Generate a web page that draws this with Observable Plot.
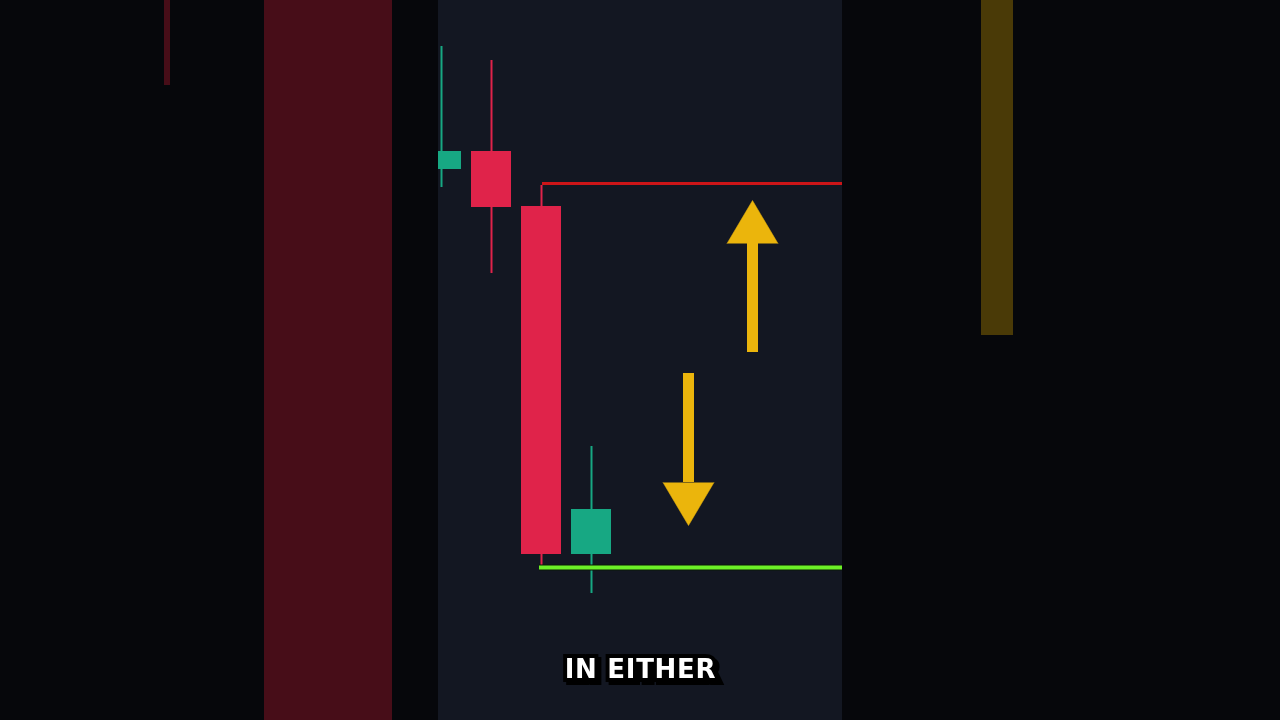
<!DOCTYPE html>
<html><head><meta charset="utf-8">
<script src="https://cdn.jsdelivr.net/npm/d3@7"></script>
<script src="https://cdn.jsdelivr.net/npm/@observablehq/plot@0.6"></script>
<style>html,body{margin:0;padding:0;background:#06070b;overflow:hidden}</style>
</head><body><div id="chart"></div>
<script>
// ---- data (x in bar-index units, y in price units) ----
const candleIndex = [0, 1, 2, 3];
const opens  = [551, 569, 514, 166];
const highs  = [674, 660, 535, 274];
const lows   = [533, 447, 155, 127];
const closes = [569, 513, 166, 211];

const panelFrom = -0.06, panelTo = 8.02;          // visible chart pane (bar index)
const levelNames  = ["resistance", "support"];
const levelPrices = [537, 153];
const levelStarts = [2.02, 1.96];

const arrowNames = ["up", "down"];
const arrowX     = [6.22, 4.94];
const arrowFrom  = [368, 347];
const arrowTo    = [520, 195];

// blurred zoomed-out bars at the sides
const ghostKinds = ["red", "red", "gold"];
const ghostX1 = [-5.54, -3.54, 10.80];
const ghostX2 = [-5.42, -0.98, 11.44];
const ghostLow  = [635, 0, 385];
const ghostHigh = [720, 720, 720];

const caption = "IN EITHER";

// ---- build tables ----
const candles = candleIndex.map((i, k) => ({i, open: opens[k], high: highs[k], low: lows[k], close: closes[k]}));
const levels = levelNames.map((n, k) => ({name: n, price: levelPrices[k], from: levelStarts[k], to: panelTo}));
const ghosts = ghostKinds.map((kind, k) => ({kind, x1: ghostX1[k], x2: ghostX2[k], y1: ghostLow[k], y2: ghostHigh[k]}));

const headHalf = 0.51, headLen = 43, half = 0.4;
const arrows = arrowNames.map((n, k) => {
  const dir = Math.sign(arrowTo[k] - arrowFrom[k]);
  return {name: n, x: arrowX[k], from: arrowFrom[k], base: arrowTo[k] - dir * headLen, tip: arrowTo[k]};
});
const heads = arrows.flatMap(a => [
  {name: a.name, x: a.x - headHalf, y: a.base},
  {name: a.name, x: a.x, y: a.tip},
  {name: a.name, x: a.x + headHalf, y: a.base}
]);

const UP = "#17a883", DOWN = "#e0234a", GOLD = "#ebb50c";
const ghostColor = {red: "#470d18", gold: "#4a3a07"};

const plot = Plot.plot({
  width: 1280, height: 720,
  margin: 0,
  style: {background: "#06070b"},
  x: {type: "linear", domain: [-441/50, (1280-441)/50], axis: null},
  y: {type: "linear", domain: [0, 720], axis: null},
  marks: [
    Plot.rect(ghosts, {x1: "x1", x2: "x2", y1: "y1", y2: "y2", fill: d => ghostColor[d.kind]}),
    Plot.rect([{}], {x1: panelFrom, x2: panelTo, y1: 0, y2: 720, fill: "#131722"}),
    Plot.ruleX(candles, {x: "i", y1: "low", y2: "high", stroke: d => d.close >= d.open ? UP : DOWN, strokeWidth: 2}),
    Plot.rect(candles, {
      x1: d => Math.max(d.i - half, panelFrom), x2: d => d.i + half,
      y1: "open", y2: "close",
      fill: d => d.close >= d.open ? UP : DOWN
    }),
    Plot.ruleY(levels.filter(d => d.name === "resistance"), {y: "price", x1: "from", x2: "to", stroke: "#cc1518", strokeWidth: 3}),
    Plot.ruleY(levels.filter(d => d.name === "support"), {y: "price", x1: "from", x2: "to", stroke: "#0b1a08", strokeWidth: 6}),
    Plot.ruleY(levels.filter(d => d.name === "support"), {y: "price", x1: "from", x2: "to", stroke: "#6cf027", strokeWidth: 4}),
    Plot.ruleX(arrows, {x: "x", y1: "from", y2: "base", stroke: GOLD, strokeWidth: 11}),
    Plot.line(heads, {x: "x", y: "y", z: "name", fill: GOLD, stroke: GOLD, strokeWidth: 0.5}),
    Plot.text([caption], {x: (panelFrom + panelTo) / 2, frameAnchor: "bottom", dy: -43,
      text: d => d, fontSize: 26, fontWeight: 700, fontFamily: "'DejaVu Sans', sans-serif",
      fill: "white", stroke: "black", strokeWidth: 8, paintOrder: "stroke", strokeLinejoin: "miter",
      className: "caption"})
  ]
});
d3.select(plot).selectAll(".caption text")
  .style("letter-spacing", "0.7px")
  .style("filter", "drop-shadow(3px 3px 0 #000)");
document.getElementById("chart").appendChild(plot);
</script>
</body></html>
